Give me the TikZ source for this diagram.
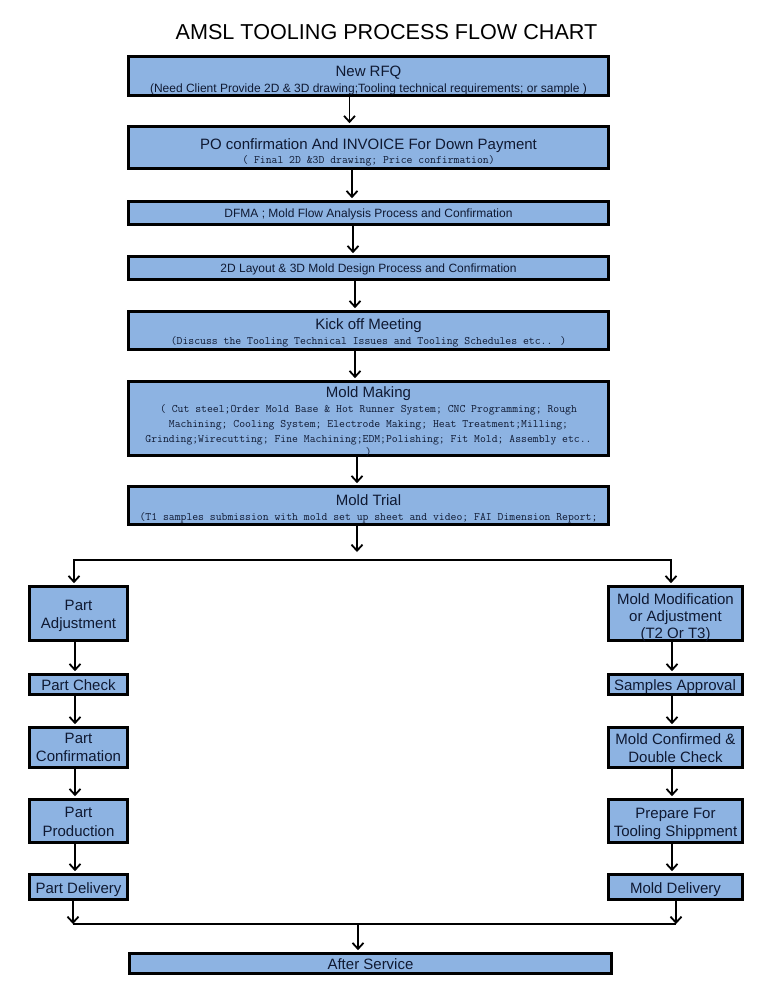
\documentclass[tikz,border=0pt]{standalone}
\usepackage{fontspec}
\setmainfont{Liberation Sans}
\usetikzlibrary{arrows.meta}
\definecolor{boxfill}{HTML}{8DB3E2}
\definecolor{boxtext}{RGB}{15,25,50}
\begin{document}
\begin{tikzpicture}[x=1pt,y=-1pt,
  box/.style={draw=black, line width=2.6pt, fill=boxfill, inner sep=0pt, anchor=center},
  mainbox/.style={box, minimum width=480},
  lbox/.style={box, minimum width=98},
  rbox/.style={box, minimum width=134},
  tx/.style={text=boxtext, inner sep=0pt, anchor=base},
  hd/.style={tx, font=\fontsize{15}{17}\selectfont},
  sm/.style={tx, font=\fontsize{12}{14}\selectfont},
  mn/.style={tx, font=\ttfamily\fontsize{11.4}{14}\selectfont},
  sd/.style={tx, font=\fontsize{15}{17}\selectfont},
  arr/.style={line width=1.8pt, -{Straight Barb[length=6pt,width=11pt,line width=1.8pt]}, shorten >=2pt},
  arr2/.style={line width=1.8pt, {Straight Barb[length=6pt,width=11pt,line width=1.8pt]}-{Straight Barb[length=6pt,width=11pt,line width=1.8pt]}, shorten >=2pt, shorten <=2pt},
  ln/.style={line width=1.8pt}
]
\useasboundingbox (0,0) rectangle (764,990);

\node[font=\fontsize{21.6}{24}\selectfont, inner sep=0pt] (title) at (386.5,32) {AMSL TOOLING PROCESS FLOW CHART};

% main boxes
\node[mainbox, minimum height=39] (rfq) at (368.5,76) {};
\node[mainbox, minimum height=42] (po) at (368.5,147.5) {};
\node[mainbox, minimum height=23] (dfma) at (368.5,213) {};
\node[mainbox, minimum height=23] (lay) at (368.5,268) {};
\node[mainbox, minimum height=38] (kick) at (368.5,330.5) {};
\node[mainbox, minimum height=74] (make) at (368.5,418.5) {};
\node[mainbox, minimum height=38] (trial) at (368.5,505.5) {};
\node[mainbox, minimum width=482, minimum height=20] (after) at (370.5,963.5) {};

% main texts
\node[hd] (rfqA) at (368.5,77) {New RFQ};
\node[sm] (rfqB) at (368.5,92.5) {(Need Client Provide 2D \& 3D drawing;Tooling technical requirements; or sample )};
\node[hd] (poA) at (368.5,149) {PO confirmation And INVOICE For Down Payment};
\node[mn] (poB) at (368.5,163.5) {( Final 2D \&3D drawing; Price confirmation)};
\node[sm] (dfmaA) at (368.5,217.5) {DFMA ; Mold Flow Analysis Process and Confirmation};
\node[sm] (layA) at (368.5,272) {2D Layout \& 3D Mold Design Process and Confirmation};
\node[hd] (kickA) at (368.5,329) {Kick off Meeting};
\node[mn] (kickB) at (368.5,344.5) {(Discuss the Tooling Technical Issues and Tooling Schedules etc.. )};
\node[hd] (makeA) at (368.5,397.3) {Mold Making};
\node[mn] (makeB) at (368.5,412.3) {( Cut steel;Order Mold Base \& Hot Runner System; CNC Programming; Rough};
\node[mn] (makeC) at (368.5,427.3) {Machining; Cooling System; Electrode Making; Heat Treatment;Milling;};
\node[mn] (makeD) at (368.5,442.3) {Grinding;Wirecutting; Fine Machining;EDM;Polishing; Fit Mold; Assembly etc..};
\node[mn] (makeE) at (368.5,455) {)};
\node[hd] (trialA) at (368.5,505) {Mold Trial};
\node[mn] (trialB) at (368.5,520.5) {(T1 samples submission with mold set up sheet and video; FAI Dimension Report;};
\node[sd] (afterA) at (370.5,969) {After Service};

% left column
\node[lbox, minimum height=54] (pa) at (78.5,613.5) {};
\node[lbox, minimum height=20] (pc) at (78.5,684.5) {};
\node[lbox, minimum height=40] (pcf) at (78.5,747.5) {};
\node[lbox, minimum height=43] (pp) at (78.5,821) {};
\node[lbox, minimum height=25] (pd) at (78.5,887) {};
\node[sd] (paA) at (78.5,610.5) {Part};
\node[sd] (paB) at (78.5,628) {Adjustment};
\node[sd] (pcA) at (78.5,690) {Part Check};
\node[sd] (pcfA) at (78.5,743) {Part};
\node[sd] (pcfB) at (78.5,761.5) {Confirmation};
\node[sd] (ppA) at (78.5,817.5) {Part};
\node[sd] (ppB) at (78.5,836) {Production};
\node[sd] (pdA) at (78.5,893) {Part Delivery};

% right column
\node[rbox, minimum height=54] (mm) at (675.5,613.5) {};
\node[rbox, minimum height=20] (sa) at (675.5,684.5) {};
\node[rbox, minimum height=40] (mc) at (675.5,747.5) {};
\node[rbox, minimum height=43] (pf) at (675.5,821) {};
\node[rbox, minimum height=25] (md) at (675.5,887) {};
\node[sd] (mmA) at (675.5,604) {Mold Modification};
\node[sd] (mmB) at (675.5,621) {or Adjustment};
\node[sd] (mmC) at (675.5,638) {(T2 Or T3)};
\node[sd] (saA) at (675,690) {Samples Approval};
\node[sd] (mcA) at (675.5,744) {Mold Confirmed \&};
\node[sd] (mcB) at (675.5,762) {Double Check};
\node[sd] (pfA) at (675.5,818) {Prepare For};
\node[sd] (pfB) at (675.5,836) {Tooling Shippment};
\node[sd] (mdA) at (675.5,893) {Mold Delivery};

% main chain
\draw[arr] ([xshift=-19]rfq.south) -- ([xshift=-19]po.north);
\draw[arr] ([xshift=-16.5]po.south) -- ([xshift=-16.5]dfma.north);
\draw[arr] ([xshift=-15.5]dfma.south) -- ([xshift=-15.5]lay.north);
\draw[arr] ([xshift=-13.5]lay.south) -- ([xshift=-13.5]kick.north);
\draw[arr] ([xshift=-13.5]kick.south) -- ([xshift=-13.5]make.north);
\draw[arr] ([xshift=-11.5]make.south) -- ([xshift=-11.5]trial.north);

% split
\coordinate (sJ) at (357,560);
\coordinate (sL) at (74,560);
\coordinate (sR) at (671,560);
\draw[arr, shorten >=8pt] (trial.south -| sJ) -- (sJ);
\draw[arr2] (pa.north -| sL) -- (sL) -- (sR) -- (mm.north -| sR);

% left column arrows
\draw[arr] ([xshift=-3.5]pa.south) -- ([xshift=-3.5]pc.north);
\draw[arr] ([xshift=-3.5]pc.south) -- ([xshift=-3.5]pcf.north);
\draw[arr] ([xshift=-3.5]pcf.south) -- ([xshift=-3.5]pp.north);
\draw[arr] ([xshift=-3.5]pp.south) -- ([xshift=-3.5]pd.north);
% right column arrows
\draw[arr] ([xshift=-3.5]mm.south) -- ([xshift=-3.5]sa.north);
\draw[arr] ([xshift=-3.5]sa.south) -- ([xshift=-3.5]mc.north);
\draw[arr] ([xshift=-3.5]mc.south) -- ([xshift=-3.5]pf.north);
\draw[arr] ([xshift=-3.5]pf.south) -- ([xshift=-3.5]md.north);

% join
\coordinate (jL) at (73,924);
\coordinate (jR) at (676,924);
\coordinate (jM) at (358,924);
\draw[arr, shorten >=0pt] (pd.south -| jL) -- (jL);
\draw[arr, shorten >=0pt] (md.south -| jR) -- (jR);
\draw[ln] (jL) -- (jR);
\draw[arr] (jM) -- (after.north -| jM);
\end{tikzpicture}
\end{document}
